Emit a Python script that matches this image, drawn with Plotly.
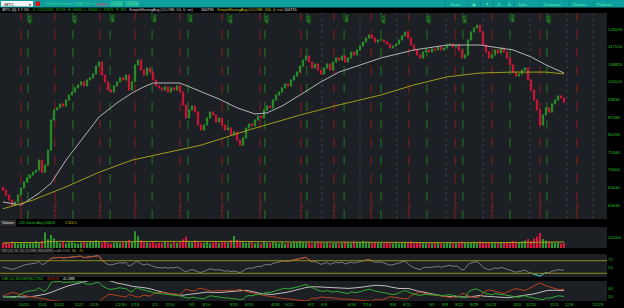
import numpy as np
import pandas as pd
import plotly.graph_objects as go

W, H = 624, 308
FONT = "Liberation Sans"

# ---------------- data ----------------
closes = [64300, 63000, 61700, 60400, 61200, 63000, 64900, 66500, 67700, 68500,
          69300, 69900, 72900, 69300, 71400, 76000, 86200, 89900, 90700, 92200,
          91400, 93700, 95700, 96900, 98600, 99800, 101100, 99400, 101900, 102800,
          104500, 108000, 109800, 104000, 101100, 97700, 96900, 99400, 101100, 102800,
          101900, 104000, 97700, 101100, 108500, 110700, 106200, 104000, 107100, 105300,
          101900, 99400, 98600, 97700, 99000, 96900, 98600, 97700, 99400, 96900,
          91800, 86900, 89900, 91400, 89100, 84400, 82700, 84400, 86900, 89100,
          88000, 85500, 86900, 84400, 82700, 83400, 81000, 82000, 79300, 77600,
          80000, 83400, 84800, 84100, 86200, 87600, 86900, 89900, 91400, 90700,
          93700, 95700, 96900, 98600, 100200, 99400, 101900, 103600, 105300, 108000,
          110700, 112600, 109800, 107100, 108900, 106200, 104500, 107100, 108900, 106200,
          109800, 111700, 110700, 112600, 109800, 111700, 114500, 113100, 115500, 117400,
          119400, 121400, 123000, 121400, 119400, 120400, 120400, 119400, 118400, 116500,
          117400, 118400, 120400, 122500, 124500, 121400, 117900, 115500, 113100, 111700,
          114500, 115500, 114500, 116000, 115500, 117000, 115500, 116500, 117900, 118400,
          117000, 117900, 115500, 111700, 113100, 120400, 124500, 126600, 128000, 124500,
          117900, 114500, 111700, 113100, 115500, 114000, 116500, 114500, 111700, 108500,
          105300, 103600, 104500, 106200, 107100, 101900, 97700, 93700, 89900, 84400,
          88000, 90700, 89100, 92200, 93700, 95300, 94500, 92825]
first_open = 65000

volumes = [9500, 11200, 8700, 12400, 10100, 7900, 9800, 11500, 8400, 10600,
           9100, 12800, 10300, 13500, 29500, 16200, 24800, 18400, 12100, 9700,
           11300, 8800, 10900, 12600, 9400, 8100, 10700, 13200, 9900, 11400,
           12000, 14600, 11800, 10200, 13900, 9600, 8300, 10500, 11100, 9200,
           10800, 12300, 15400, 11600, 31800, 22500, 14700, 12200, 10400, 9800,
           11900, 8600, 10100, 9300, 12700, 10900, 8800, 11400, 9700, 13100,
           16800, 21200, 12900, 10500, 14300, 11700, 10200, 9400, 12100, 8900,
           10600, 11800, 9500, 13400, 12200, 10700, 14800, 22900, 15600, 13200,
           11100, 9900, 10800, 12500, 9200, 10300, 8700, 11600, 10100, 9400,
           12000, 10600, 9100, 11300, 8500, 10200, 9700, 11900, 10400, 12800,
           11500, 9800, 10900, 8600, 9900, 11200, 10300, 9000, 10700, 8800,
           9600, 10100, 8400, 9300, 11700, 10500, 9200, 12400, 10800, 11600,
           13100, 12200, 10900, 9700, 11300, 10200, 9500, 8900, 10600, 9800,
           9100, 10400, 8700, 9900, 11800, 10300, 12600, 10100, 9400, 11000,
           8900, 9600, 10200, 8500, 9300, 10800, 9000, 8700, 9800, 10400,
           9200, 8800, 11100, 12300, 10000, 9500, 10900, 11700, 10200, 12900,
           11400, 10600, 9300, 10100, 8900, 9700, 10500, 11200, 10800, 12100,
           13400, 11900, 10700, 12600, 14100, 16800, 13500, 18200, 21400, 28600,
           17300, 14500, 12800, 10900, 9600, 11200, 8700, 9500]

sma50_bar = [0, 6, 12, 16, 21, 27, 32, 38, 43, 47, 50, 59, 66, 72, 78, 84, 88, 93,
             99, 106, 112, 119, 126, 137, 148, 159, 170, 176, 181, 187]
sma50_val = [61200, 60400, 63500, 66200, 72900, 80300, 87300, 92600, 96500, 99000,
             100600, 100600, 96900, 94100, 90700, 88400, 88800, 91400, 95700, 101100,
             105300, 108500, 111700, 115500, 117900, 117900, 115500, 112200, 108500, 104900]

sma200_bar = [0, 10, 21, 32, 43, 55, 66, 82, 99, 112, 126, 137, 148, 159, 170, 181, 187]
sma200_val = [59500, 61700, 65200, 69300, 72900, 75400, 77600, 82700, 88000, 91800,
              95700, 99800, 103200, 104900, 105300, 105300, 104500]

price_ticks = [126056, 117120, 108820, 101100, 93930, 87280, 81090, 75340, 70000, 65040, 60430]

date_labels = ["10/21", "11/4", "11/11", "12/2", "12/9", "12/30", "1/13", "2/1", "2/10",
               "3/1", "3/10", "3/31", "4/14", "4/28", "5/12", "6/2", "6/9", "6/30", "7/14",
               "8/4", "8/11", "9/1", "9/8", "9/22", "9/29", "10/13", "11/3", "11/10",
               "12/1", "12/8", "12/29"]
date_label_bar = [7, 13, 18.7, 25.3, 30.3, 39.3, 44, 50.7, 55.7, 63, 67.7, 77, 82, 90.7,
                  95.3, 102.7, 107, 116.3, 121.3, 130, 134.7, 143, 147.3, 152, 157, 162.7,
                  171.3, 176, 183.7, 188.7, 198.3]

green_event_bar = [8.3, 23.3, 35.7, 49.7, 61.7, 75, 87.3, 101.3, 113.7, 126, 141.3, 153.3, 169, 181.3]
red_event_bar = [6, 17.3, 32.3, 44, 59, 73, 85.7, 99.3, 110.3, 122.7, 135.3, 150.7, 163, 179, 191.3]
grid_bar = [106.3, 119, 131.3, 147.7, 160, 175.7, 188, 196.7]

# ---------------- derived ----------------
n = len(closes)
c = np.array(closes, float)
o = np.concatenate([[first_open], c[:-1]])
hi = np.maximum(o, c) * 1.004
lo = np.minimum(o, c) * 0.996
up = c >= o
xi = np.arange(n)

UP, DN = "#2a9a2a", "#e0143c"

# RSI (Wilder, 14)
d = np.diff(c, prepend=c[0])
ag = al = 1000.0
rsi = []
for dv in d:
    ag = (ag * 13 + max(dv, 0)) / 14
    al = (al * 13 + max(-dv, 0)) / 14
    rsi.append(100 * ag / (ag + al))
rsi = np.array(rsi)

# DMI (Wilder, 14)
pc = np.concatenate([[c[0]], c[:-1]])
ph = np.concatenate([[hi[0]], hi[:-1]])
pl = np.concatenate([[lo[0]], lo[:-1]])
upm = hi - ph
dnm = pl - lo
pdm = np.where((upm > dnm) & (upm > 0), upm, 0.0)
mdm = np.where((dnm > upm) & (dnm > 0), dnm, 0.0)
tr = np.maximum.reduce([hi - lo, np.abs(hi - pc), np.abs(lo - pc)])
s_tr, s_p, s_m, adx = 28000.0, 6000.0, 6000.0, 20.0
dip, dim, adxs = [], [], []
for t, p_, m_ in zip(tr, pdm, mdm):
    s_tr = s_tr * 13 / 14 + t
    s_p = s_p * 13 / 14 + p_
    s_m = s_m * 13 / 14 + m_
    a = 100 * s_p / s_tr
    b = 100 * s_m / s_tr
    dx = 100 * abs(a - b) / (a + b) if a + b > 0 else 0
    adx = (adx * 13 + dx) / 14
    dip.append(a); dim.append(b); adxs.append(adx)

vavg = pd.Series(volumes, dtype=float).rolling(50, min_periods=1).mean()

# ---------------- figure ----------------
fig = go.Figure()

fig.add_trace(go.Candlestick(
    x=xi, open=o, high=hi, low=lo, close=c,
    increasing=dict(line=dict(color=UP, width=0.6), fillcolor=UP),
    decreasing=dict(line=dict(color=DN, width=0.6), fillcolor=DN),
    whiskerwidth=0, xaxis="x", yaxis="y", hoverinfo="skip", showlegend=False))
fig.add_trace(go.Scatter(x=sma50_bar, y=sma50_val, mode="lines",
                         line=dict(color="#b4b4b4", width=1), xaxis="x", yaxis="y", showlegend=False))
fig.add_trace(go.Scatter(x=sma200_bar, y=sma200_val, mode="lines",
                         line=dict(color="#a09c1c", width=1), xaxis="x", yaxis="y", showlegend=False))

fig.add_trace(go.Bar(x=xi, y=volumes, marker=dict(color=np.where(up, UP, DN).tolist(), line=dict(width=0)),
                     xaxis="x2", yaxis="y2", showlegend=False))
fig.add_trace(go.Scatter(x=xi, y=vavg, mode="lines", line=dict(color="#a09c1c", width=1),
                         xaxis="x2", yaxis="y2", showlegend=False))

def seg(mask):
    m = mask | np.roll(mask, 1) | np.roll(mask, -1)
    return np.where(m, rsi, np.nan)

fig.add_trace(go.Scatter(x=xi, y=rsi, mode="lines", line=dict(color="#7a7a7a", width=1),
                         xaxis="x3", yaxis="y3", showlegend=False))
fig.add_trace(go.Scatter(x=xi, y=seg(rsi > 70), mode="lines", line=dict(color="#c04a28", width=1),
                         xaxis="x3", yaxis="y3", showlegend=False))
fig.add_trace(go.Scatter(x=xi, y=seg(rsi < 30), mode="lines", line=dict(color="#20b8c8", width=1),
                         xaxis="x3", yaxis="y3", showlegend=False))

fig.add_trace(go.Scatter(x=xi, y=adxs, mode="lines", line=dict(color="#bdbdbd", width=1),
                         xaxis="x4", yaxis="y4", showlegend=False))
fig.add_trace(go.Scatter(x=xi, y=dim, mode="lines", line=dict(color="#b8401e", width=1),
                         xaxis="x4", yaxis="y4", showlegend=False))
fig.add_trace(go.Scatter(x=xi, y=dip, mode="lines", line=dict(color="#2fa82f", width=1),
                         xaxis="x4", yaxis="y4", showlegend=False))

XR = [-1.0, (607 - 3) / 3]
dom_x = [0, 607 / W]

def ydom(top, bot):
    return [1 - bot / H, 1 - top / H]

GREEN_TXT = "#27c227"
base_x = dict(domain=dom_x, range=XR, showgrid=False, zeroline=False, showticklabels=False,
              showline=False, ticks="", fixedrange=True)
base_y = dict(side="right", showgrid=False, zeroline=False, showline=False, ticks="",
              tickfont=dict(size=4.3, color=GREEN_TXT, family=FONT), fixedrange=True)

fig.update_layout(
    width=W, height=H, margin=dict(l=0, r=0, t=0, b=0),
    paper_bgcolor="#000000", plot_bgcolor="#1c1f24",
    bargap=0.35, showlegend=False,
    xaxis=dict(base_x, anchor="y", rangeslider=dict(visible=False)),
    xaxis2=dict(base_x, anchor="y2", matches="x"),
    xaxis3=dict(base_x, anchor="y3", matches="x"),
    xaxis4=dict(base_x, anchor="y4", matches="x", showticklabels=True, tickangle=0,
                tickvals=date_label_bar, ticktext=date_labels,
                tickfont=dict(size=4.3, color=GREEN_TXT, family=FONT)),
    yaxis=dict(base_y, anchor="x", domain=ydom(13, 219), type="log", range=[4.7559, 5.1296],
               tickvals=price_ticks, ticktext=[str(v) for v in price_ticks]),
    yaxis2=dict(base_y, anchor="x2", domain=ydom(227, 248), range=[0, 40000],
                tickvals=[20000], ticktext=["20,000"]),
    yaxis3=dict(base_y, anchor="x3", domain=ydom(254, 277), range=[18.3, 91.3],
                tickvals=[75, 50], ticktext=["75", "50"]),
    yaxis4=dict(base_y, anchor="x4", domain=ydom(281, 301), range=[7.6, 60.3],
                tickvals=[40, 20], ticktext=["40", "20"]),
)

shapes = []
for b in red_event_bar:
    shapes.append(dict(type="line", xref="x", yref="y domain", x0=b, x1=b, y0=0, y1=1,
                       line=dict(color="#8c1c1c", width=1, dash="dash"), layer="below"))
for b in green_event_bar:
    shapes.append(dict(type="line", xref="x", yref="y domain", x0=b, x1=b, y0=0, y1=1,
                       line=dict(color="#1f7a1f", width=1, dash="dash"), layer="below"))
for b in grid_bar:
    shapes.append(dict(type="line", xref="x", yref="y domain", x0=b, x1=b, y0=0, y1=1,
                       line=dict(color="#3a3e46", width=1, dash="dot"), layer="below"))
for lv in (70, 30):
    shapes.append(dict(type="line", xref="x3 domain", yref="y3", x0=0, x1=1, y0=lv, y1=lv,
                       line=dict(color="#8f8c1a", width=1)))

def rect(x0, y0, x1, y1, color):
    shapes.append(dict(type="rect", xref="paper", yref="paper", x0=x0 / W, x1=x1 / W,
                       y0=1 - y1 / H, y1=1 - y0 / H, fillcolor=color, line=dict(width=0), layer="above"))

rect(0, 0, W, 7.5, "#0f9d9d")
rect(1, 1, 33, 6.5, "#f2f2f2")
rect(35.5, 1.5, 40, 6, "#d41414")
rect(110, 1, 123, 6.5, "#23b3a3")
rect(125, 1, 139, 6.5, "#23b3a3")
for sx in (445, 468, 480, 493, 505, 514, 540, 569, 593):
    rect(sx, 0.5, sx + 0.6, 7, "#0a7f7f")
rect(0, 219.5, 16, 226.5, "#2b2b2b")
rect(0, 248, 54, 253.5, "#1a1a1a")
fig.update_layout(shapes=shapes)

def T(x, y, s, color, size=3.8, anchor="left", angle=0, bg=None):
    fig.add_annotation(x=x / W, y=1 - y / H, xref="paper", yref="paper", text=s, showarrow=False,
                       xanchor=anchor, yanchor="middle", textangle=angle, bgcolor=bg, borderpad=0,
                       font=dict(size=size, color=color, family=FONT))

T(3, 4, "/BTC", "#000000", 4.3)
T(28, 4, "▾", "#333333", 4)
T(46, 4, "Bitcoin Futures (CME) Dec 25", "#3ed98a", 3.8)
T(95, 4, "93825", "#e8456a", 4.2)
T(111, 4, "-1,030", "#3ee07a", 3.5)
T(126, 4, "-1.09%", "#3ee07a", 3.5)
for x, s in [(449, "Share"), (471, "▣"), (484, "⚗"), (496, "⚙"), (507, "A"), (517, "Style"),
             (543, "Drawings"), (572, "Studies"), (596, "Patterns")]:
    T(x, 4, s, "#62e8a8", 4.0)

T(1, 10.5, "/BTC (0) 1 Y 1D", "#e6e6e6", 3.8)
for x, s in [(32, "D: 12/12/25"), (50, "O: 92725"), (67, "H: 93060"), (83, "L: 92665"),
             (98, "C: 92825"), (115, "R: 395")]:
    T(x, 10.5, s, GREEN_TXT, 3.6)
T(128, 10.5, "SimpleMovingAvg (CLOSE, 50, 0, no)", "#d8d8d8", 3.8)
T(200, 10.5, "100793", "#e8e8e8", 3.8)
T(216, 10.5, "SimpleMovingAvg (CLOSE, 200, 0, no)", "#c8c41e", 3.8)
T(283, 10.5, "100715", "#e8e8e8", 3.8)

for b in green_event_bar:
    px = (b - XR[0]) / (XR[1] - XR[0]) * 607
    T(px + 2.5, 19, "10/25", "#3fc23f", 3.2, "center", -90, "#14301a")
for b in red_event_bar:
    px = (b - XR[0]) / (XR[1] - XR[0]) * 607
    T(px, 206, "Expiry", "#b82c2c", 3.2, "center", -90)

T(1, 223, "Volume:", "#e0e0e0", 3.5)
T(17.5, 223, "245", GREEN_TXT, 3.5)
T(25, 223, "VolumeAvg (50)", GREEN_TXT, 3.4)
T(48, 223, "243", GREEN_TXT, 3.5)
T(64, 223, "5,524.5", "#c8c41e", 3.5)
T(1, 251, "RSI (14, 70, 30, CLOSE, WILDERS, no)", "#9a9a9a", 3.2)
T(57, 251, "46.5503", "#9a9a9a", 3.3)
T(71, 251, "30", "#c8c41e", 3.3)
T(78, 251, "70", "#c8c41e", 3.3)
T(1, 279, "DMI (14, WILDERS)", GREEN_TXT, 3.3)
T(30, 279, "12.7653", GREEN_TXT, 3.3)
T(46, 279, "28.4176", "#d0402a", 3.3)
T(62, 279, "41.2883", "#e6e6e6", 3.3)

fig.write_html("out.html")
